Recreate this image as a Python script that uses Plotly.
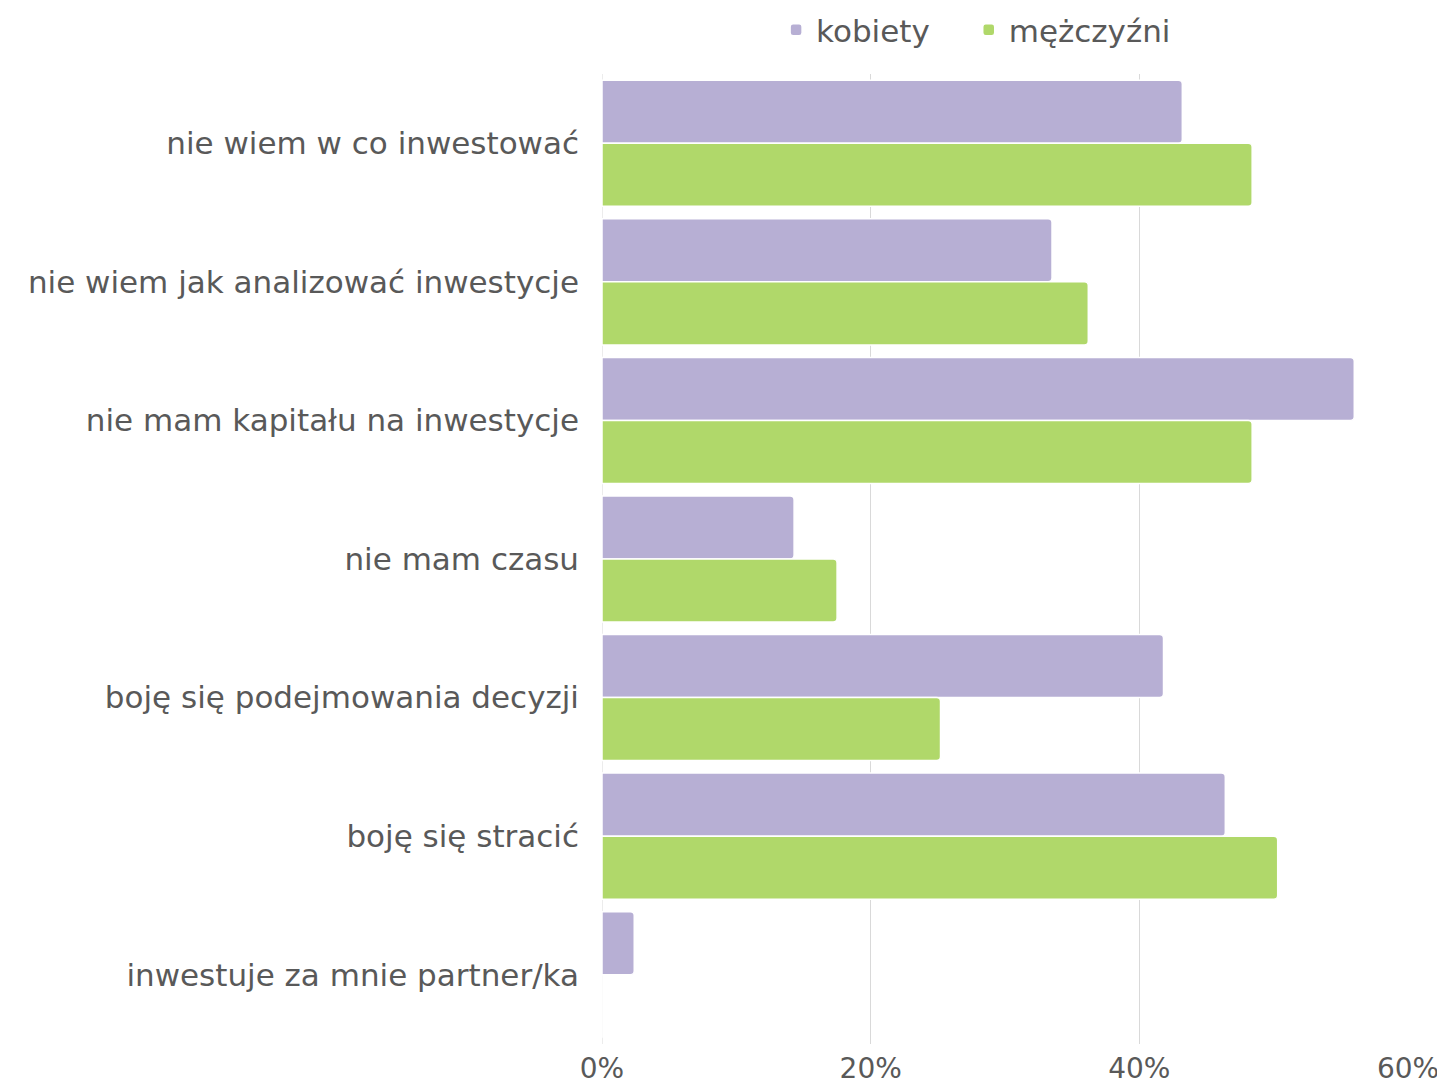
import plotly.graph_objects as go

categories = [
    "nie wiem w co inwestować",
    "nie wiem jak analizować inwestycje",
    "nie mam kapitału na inwestycje",
    "nie mam czasu",
    "boję się podejmowania decyzji",
    "boję się stracić",
    "inwestuje za mnie partner/ka",
]
kobiety = [43.2, 33.5, 56.0, 14.3, 41.8, 46.4, 2.4]
mezczyzni = [48.4, 36.2, 48.4, 17.5, 25.2, 50.3, 0]
series_names = ["kobiety", "mężczyźni"]
tick_vals = [0, 20, 40, 60]
tick_text = ["0%", "20%", "40%", "60%"]

FONT = "DejaVu Sans"
TXT = "#595959"
W, H = 1437, 1078  # page adds an 8px body margin

fig = go.Figure()
fig.add_trace(go.Bar(
    y=categories, x=kobiety, name=series_names[0], orientation="h",
    marker=dict(color="#b7afd4", line=dict(color="#ffffff", width=1.5)),
    legend="legend", showlegend=True,
))
fig.add_trace(go.Bar(
    y=categories, x=mezczyzni, name=series_names[1], orientation="h",
    marker=dict(color="#b0d86a", line=dict(color="#ffffff", width=1.5)),
    legend="legend2", showlegend=True,
))

leg_common = dict(orientation="h", xanchor="left", visible=True,
                  yref="container", y=1 - 22 / H, yanchor="middle",
                  font=dict(size=31, color=TXT), itemwidth=30,
                  bgcolor="rgba(0,0,0,0)")

fig.update_layout(
    width=W, height=H, showlegend=True,
    margin=dict(l=594, r=37, t=66, b=42, autoexpand=False),
    paper_bgcolor="white", plot_bgcolor="white",
    barmode="group", bargap=0.09, bargroupgap=0.0,
    barcornerradius=4,
    font=dict(family=FONT, color=TXT, size=30),
    legend=dict(x=0.216, **leg_common),
    legend2=dict(x=0.455, **leg_common),
    xaxis=dict(range=[0, 60], tickvals=tick_vals, ticktext=tick_text,
               showgrid=True, gridcolor="#d9d9d9", gridwidth=1,
               zeroline=False, showline=False, automargin=False,
               tickfont=dict(size=28, color=TXT), ticklabelstandoff=5),
    yaxis=dict(categoryorder="array", categoryarray=categories, autorange="reversed",
               showgrid=False, zeroline=False, showline=False, automargin=False,
               tickfont=dict(size=31, color=TXT), ticklabelstandoff=22),
)
fig.add_vline(x=0, line=dict(color="#d9d9d9", width=1), layer="below")

fig.write_html("out.html")
